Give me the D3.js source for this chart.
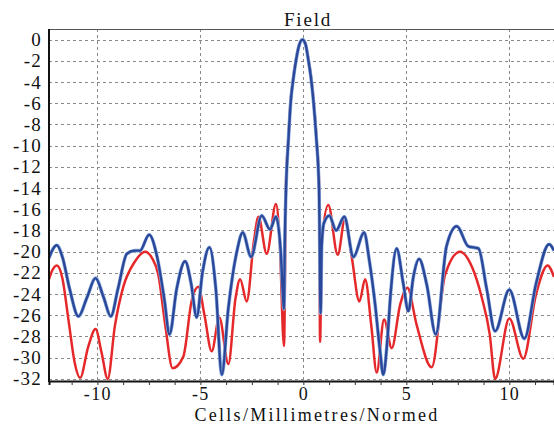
<!DOCTYPE html>
<html>
<head>
<meta charset="utf-8">
<script src="https://cdn.jsdelivr.net/npm/d3@7"></script>
<style>
  body { margin: 0; background: #fff; }
  svg { display: block; font-family: "Liberation Serif", "Times New Roman", serif; }
</style>
</head>
<body>
<div id="chart"></div>
<script>
const width = 554, height = 425;

// tick values
const yTicks = d3.range(0, -33, -2);
const xGrid = [-10, -5, 0, 5, 10];
const xLabels = [-10, -5, 0, 5, 10];
const xMinor = d3.range(-9, 10).map(k => k * 1.25);

// blue series
const blueX = [-12.35, -12.2, -11.97, -11.7, -11.35, -10.92, -10.5, -10.09, -9.7, -9.35, -9.0, -8.57, -8.2, -7.93, -7.49, -7.1, -6.75, -6.5, -6.15, -5.74, -5.45, -5.18, -4.9, -4.56, -4.25, -3.96, -3.64, -3.23, -2.94, -2.54, -2.02, -1.62, -1.33, -1.1, -0.98, -0.94, -0.9,
  -0.84, -0.72, -0.61, -0.48, -0.35, -0.2, -0.05, 0.1, 0.24, 0.37, 0.49, 0.63, 0.76,
  0.84, 0.89, 1.0, 1.26, 1.59, 1.99, 2.43, 2.95, 3.2, 3.48, 3.72, 3.88, 4.08, 4.24, 4.53, 4.85, 5.1, 5.34, 5.62, 5.99, 6.43, 6.95, 7.45, 8.01, 8.5, 8.9, 9.31, 10.0, 10.73, 11.3, 11.93, 12.17];
const blueY = [-20.6, -19.9, -19.4, -20.5, -23.5, -26.1, -24.3, -22.5, -24.3, -26.1, -23.5, -20.2, -19.9, -19.9, -18.4, -20.5, -24.5, -27.8, -23.5, -20.9, -23.0, -26.2, -22.0, -19.6, -23.5, -31.6, -25.3, -20.0, -18.2, -20.5, -16.6, -17.9, -16.7, -20.0, -24.5, -25.4, -19.0,
  -14, -9.3, -5.8, -3.6, -1.9, -0.5, 0, -0.4, -1.9, -3.6, -5.8, -9.3, -14,
  -25.8, -19.5, -17.3, -16.6, -18.0, -16.7, -20.5, -18.2, -20.8, -24.9, -29.3, -31.6, -28.3, -23.9, -19.7, -23.0, -25.6, -22.4, -20.7, -23.1, -27.8, -19.5, -17.6, -19.5, -19.7, -23.5, -27.5, -23.6, -28.2, -23.0, -19.3, -19.9];

// red series
const redX = [-12.35, -12.2, -11.97, -11.7, -11.4, -11.1, -10.84, -10.45, -10.09, -9.8, -9.5, -9.15, -8.74, -8.2, -7.68, -7.35, -7.04, -6.7, -6.35, -5.83, -5.42, -5.1, -4.8, -4.45, -4.08, -3.64, -3.3, -3.07, -2.75, -2.4, -2.18, -1.78, -1.33, -1.15, -0.94, -0.87,
  -0.85, -0.73, -0.62, -0.49, -0.36, -0.2, -0.05, 0.1, 0.25, 0.38, 0.5, 0.64, 0.77,
  0.81, 0.9, 1.21, 1.67, 2.02, 2.35, 2.72, 3.0, 3.3, 3.56, 3.92, 4.29, 4.7, 5.05, 5.5, 6.23, 6.88, 7.61, 8.2, 8.66, 9.05, 9.31, 10.0, 10.68, 11.3, 11.86, 12.17];
const redY = [-22.6, -21.8, -21.3, -22.5, -26.5, -30.5, -31.9, -29.0, -27.3, -29.5, -32.0, -27.0, -23.3, -21.0, -20.0, -20.6, -22.2, -27.0, -31.0, -29.9, -24.6, -23.3, -26.0, -29.4, -26.2, -30.6, -24.5, -22.6, -24.7, -19.0, -16.7, -20.2, -15.5, -19.0, -28.9, -18.0,
  -14, -9.3, -5.8, -3.6, -1.9, -0.5, 0, -0.4, -1.9, -3.6, -5.8, -9.3, -14,
  -28.5, -19.0, -15.6, -20.3, -16.9, -20.5, -24.7, -22.6, -27.0, -31.4, -26.4, -29.1, -25.0, -23.4, -26.9, -30.9, -22.2, -20.0, -21.5, -24.3, -27.8, -32.0, -26.3, -30.1, -24.0, -21.3, -22.4];

const blue = blueX.map((x, i) => ({ x, y: blueY[i] }));
const red = redX.map((x, i) => ({ x, y: redY[i] }));

const margin = { left: 49, right: 554, top: 29, bottom: 381 };

const x = d3.scaleLinear().domain([-12.35, 12.17]).range([margin.left, margin.right]);
const y = d3.scaleLinear().domain([1, -32.2]).range([margin.top, margin.bottom]);

const svg = d3.select("#chart").append("svg")
  .attr("width", width)
  .attr("height", height);

svg.append("defs").append("clipPath").attr("id", "clip")
  .append("rect")
  .attr("x", margin.left).attr("y", margin.top)
  .attr("width", margin.right - margin.left).attr("height", margin.bottom - margin.top);

// grid
svg.append("g")
  .selectAll("line")
  .data(yTicks)
  .enter().append("line")
  .attr("x1", margin.left).attr("x2", margin.right)
  .attr("y1", d => Math.round(y(d)) + 0.5)
  .attr("y2", d => Math.round(y(d)) + 0.5)
  .attr("stroke", "#8a8a8a")
  .attr("stroke-dasharray", "3,3");

svg.append("g")
  .selectAll("line")
  .data(xGrid)
  .enter().append("line")
  .attr("x1", d => Math.round(x(d)) + 0.5)
  .attr("x2", d => Math.round(x(d)) + 0.5)
  .attr("y1", margin.top).attr("y2", margin.bottom)
  .attr("stroke", "#8a8a8a")
  .attr("stroke-dasharray", "3,3");

// top border
svg.append("line")
  .attr("x1", margin.left).attr("x2", margin.right)
  .attr("y1", margin.top + 0.5).attr("y2", margin.top + 0.5)
  .attr("stroke", "#555");

// curves
const line = d3.line()
  .x(d => x(d.x))
  .y(d => y(d.y))
  .curve(d3.curveMonotoneX);

const plot = svg.append("g").attr("clip-path", "url(#clip)");

plot.append("path")
  .datum(red)
  .attr("fill", "none")
  .attr("stroke", "#e5292b")
  .attr("stroke-width", 2.5)
  .attr("stroke-linejoin", "round")
  .attr("d", line);

plot.append("path")
  .datum(blue)
  .attr("fill", "none")
  .attr("stroke", "#8fb0e0")
  .attr("stroke-width", 3.6)
  .attr("stroke-linejoin", "round")
  .attr("d", line);

plot.append("path")
  .datum(blue)
  .attr("fill", "none")
  .attr("stroke", "#2b4799")
  .attr("stroke-width", 2.4)
  .attr("stroke-linejoin", "round")
  .attr("d", line);

// axes
svg.append("g")
  .attr("transform", `translate(0,${margin.bottom})`)
  .call(d3.axisBottom(x).tickValues(xMinor).tickSize(4).tickFormat(""))
  .call(g => g.select(".domain").attr("stroke", "#111").attr("stroke-width", 2))
  .call(g => g.selectAll(".tick line").attr("stroke", "#333"));

svg.append("line")
  .attr("x1", margin.left).attr("x2", margin.left)
  .attr("y1", margin.top).attr("y2", margin.bottom + 1)
  .attr("stroke", "#111")
  .attr("stroke-width", 2);

// y labels
svg.append("g")
  .selectAll("text")
  .data(yTicks)
  .enter().append("text")
  .attr("x", 42)
  .attr("y", d => y(d) + 6.5)
  .attr("text-anchor", "end")
  .attr("font-size", "19px")
  .attr("letter-spacing", "1.2px")
  .attr("fill", "#111")
  .text(d => d);

// x labels
svg.append("g")
  .selectAll("text")
  .data(xLabels)
  .enter().append("text")
  .attr("x", d => x(d) + 0.5)
  .attr("y", 400)
  .attr("text-anchor", "middle")
  .attr("font-size", "18px")
  .attr("letter-spacing", "1.4px")
  .attr("fill", "#111")
  .text(d => d);

svg.append("text")
  .attr("x", 317)
  .attr("y", 421)
  .attr("text-anchor", "middle")
  .attr("font-size", "18px")
  .attr("letter-spacing", "2.3px")
  .attr("fill", "#111")
  .text("Cells/Millimetres/Normed");

svg.append("text")
  .attr("x", 308)
  .attr("y", 26)
  .attr("text-anchor", "middle")
  .attr("font-size", "19px")
  .attr("letter-spacing", "1.8px")
  .attr("fill", "#111")
  .text("Field");
</script>
</body>
</html>
